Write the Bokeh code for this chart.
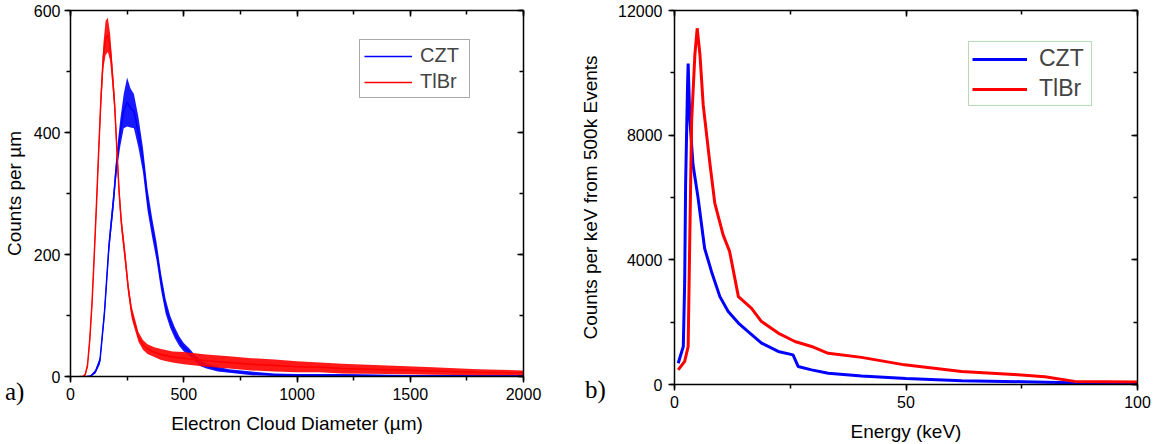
from bokeh.plotting import figure
from bokeh.models import (Range1d, LinearAxis, SingleIntervalTicker, Legend,
                          LegendItem, Div, CustomJSTickFormatter)
from bokeh.layouts import row, column
from bokeh.embed import file_html
from bokeh.resources import INLINE

# ---------------- data: panel a) electron cloud diameter ----------------
czt_d = [70, 90, 110, 130, 150, 170, 190, 200, 210, 220, 235, 250, 265, 280, 300,
         320, 340, 360, 380, 400, 420, 440, 460, 480, 500, 525, 550, 575, 600,
         650, 700, 800, 900, 1000, 1200, 1500, 2000]
czt_counts = [0, 1, 8, 26, 105, 215, 290, 335, 370, 400, 435, 450, 440, 435, 400,
              355, 290, 245, 205, 155, 115, 90, 72, 58, 48, 40, 30, 22, 17,
              12, 9, 5, 3, 2, 2, 1, 1]
czt_noise = [0, 1, 3, 6, 10, 12, 15, 16, 18, 22, 28, 40, 32, 28, 25,
             20, 18, 16, 15, 14, 12, 10, 9, 8, 7, 6, 5, 5, 4,
             4, 3, 3, 2, 2, 2, 1.5, 1.5]

tlbr_d = [40, 55, 65, 75, 85, 95, 105, 115, 125, 135, 145, 155, 165, 175, 185,
          195, 205, 215, 225, 240, 255, 270, 285, 300, 320, 340, 370, 400, 450,
          500, 600, 700, 800, 900, 1000, 1100, 1200, 1400, 1600, 1800, 2000]
tlbr_counts = [0, 0, 3, 18, 60, 120, 200, 285, 375, 460, 525, 555, 560, 540, 495,
               445, 370, 300, 250, 200, 145, 105, 85, 65, 52, 45, 40, 36, 32,
               30, 26, 23, 20, 18, 16, 15, 13, 11, 9, 7, 6]
tlbr_noise = [0, 0.5, 1.5, 4, 8, 10, 12, 14, 15, 18, 20, 28, 28, 22, 18,
              16, 15, 14, 12, 12, 10, 10, 9, 8, 8, 8, 8, 9, 9,
              10, 10, 10, 10, 10, 9, 8, 8, 7, 6, 5, 4]

# ---------------- data: panel b) energy spectra ----------------
czt_e = [0.8, 1.9, 2.2, 2.4, 2.8, 2.95, 3.3, 4.0, 5.1, 6.5, 8.0, 9.8, 11.6, 13.8,
         15.9, 18.8, 22.4, 25.6, 26.7, 29.6, 33.2, 40.4, 50, 62, 75, 85.7, 100]
czt_spec = [680, 1220, 3300, 6400, 9500, 10300, 8550, 7050, 5980, 4370, 3620, 2820,
            2340, 1970, 1700, 1330, 1060, 950, 580, 470, 360, 270, 190, 120, 90, 60, 30]

tlbr_e = [0.8, 2.2, 2.95, 3.3, 3.7, 4.4, 4.9, 5.5, 6.2, 7.6, 8.7, 10.5, 11.9, 13.8,
          16.6, 18.8, 22.4, 26.0, 29.6, 33.2, 40.4, 49.7, 62, 74.2, 80, 86.4, 100]
tlbr_spec = [470, 740, 1220, 4690, 8440, 10580, 11430, 10580, 8970, 7150, 5820, 4800,
             4270, 2820, 2450, 2020, 1650, 1380, 1220, 1000, 870, 630, 420, 310, 250,
             100, 80]

panel_tags = ["a)", "b)"]

BLUE = "#0000ff"
RED = "#ff0000"
FONT = "Liberation Sans"


def style_axis(ax, outward=True, labels=True):
    ax.axis_line_width = 1.5
    ax.axis_line_color = "black"
    ax.major_tick_line_width = 1.5
    ax.minor_tick_line_width = 1.5
    ax.major_tick_line_color = "black"
    ax.minor_tick_line_color = "black"
    if outward:
        ax.major_tick_out, ax.major_tick_in = 6, 0
        ax.minor_tick_out, ax.minor_tick_in = 4, 0
    else:
        ax.major_tick_out, ax.major_tick_in = 0, 6
        ax.minor_tick_out, ax.minor_tick_in = 0, 4
    ax.major_label_text_font = FONT
    ax.major_label_text_font_size = "16px"
    ax.major_label_text_color = "black"
    ax.axis_label_text_font = FONT
    ax.axis_label_text_font_size = "19px"
    ax.axis_label_text_font_style = "normal"
    ax.axis_label_text_color = "black"
    if not labels:
        ax.formatter = CustomJSTickFormatter(code="return ''")
        ax.major_label_standoff = 0
        ax.major_label_text_font_size = "1px"


def make_fig(fw, fh, bl, bt, br, bb, xr, yr, xint, yint):
    p = figure(frame_width=fw, frame_height=fh, min_border_left=bl, min_border_top=bt,
               min_border_right=br, min_border_bottom=bb,
               x_range=Range1d(*xr), y_range=Range1d(*yr),
               output_backend="svg", toolbar_location=None)
    p.grid.visible = False
    p.outline_line_color = None
    p.background_fill_color = "white"
    p.border_fill_color = "white"
    bottom = p.below[0]
    left = p.left[0]
    bottom.ticker = SingleIntervalTicker(interval=xint, num_minor_ticks=2)
    left.ticker = SingleIntervalTicker(interval=yint, num_minor_ticks=2)
    style_axis(bottom)
    style_axis(left)
    top = LinearAxis(ticker=SingleIntervalTicker(interval=xint, num_minor_ticks=2))
    right = LinearAxis(ticker=SingleIntervalTicker(interval=yint, num_minor_ticks=2))
    style_axis(top, outward=False, labels=False)
    style_axis(right, outward=False, labels=False)
    p.add_layout(top, "above")
    p.add_layout(right, "right")
    return p, bottom, left


# ---------------- panel a ----------------
p1, xa1, ya1 = make_fig(453, 366, 69, 10, 48, 60, (0, 2000), (0, 600), 500, 200)
xa1.axis_label = "Electron Cloud Diameter (µm)"
ya1.axis_label = "Counts per µm"
xa1.major_label_standoff = 5
ya1.major_label_standoff = 4
xa1.axis_label_standoff = 10
ya1.axis_label_standoff = 6

czt_lo = [max(c - n, 0) for c, n in zip(czt_counts, czt_noise)]
czt_hi = [c + n for c, n in zip(czt_counts, czt_noise)]
tl_lo = [max(c - n, 0) for c, n in zip(tlbr_counts, tlbr_noise)]
tl_hi = [c + n for c, n in zip(tlbr_counts, tlbr_noise)]

p1.varea(x=czt_d, y1=czt_lo, y2=czt_hi, fill_color=BLUE, fill_alpha=0.9)
l_czt = p1.line(czt_d, czt_counts, line_color=BLUE, line_width=1.5)
p1.varea(x=tlbr_d, y1=tl_lo, y2=tl_hi, fill_color=RED, fill_alpha=0.9)
l_tl = p1.line(tlbr_d, tlbr_counts, line_color=RED, line_width=1.5)

leg1 = Legend(items=[LegendItem(label="CZT", renderers=[l_czt]),
                     LegendItem(label="TlBr", renderers=[l_tl])],
              location=(289, 278))
leg1.label_text_font = FONT
leg1.label_text_font_size = "20px"
leg1.glyph_width = 48
leg1.glyph_height = 22
leg1.label_height = 22
leg1.label_width = 45
leg1.label_standoff = 8
leg1.padding = 4
leg1.spacing = 3
leg1.margin = 0
leg1.border_line_color = "#555555"
leg1.border_line_width = 1
leg1.background_fill_alpha = 1
p1.add_layout(leg1)

# ---------------- panel b ----------------
p2, xa2, ya2 = make_fig(463, 374, 103, 9, 17, 53, (0, 100), (0, 12000), 50, 4000)
xa2.axis_label = "Energy (keV)"
ya2.axis_label = "Counts per keV from 500k Events"
xa2.major_label_standoff = 5
ya2.major_label_standoff = 6
xa2.axis_label_standoff = 10
ya2.axis_label_standoff = 14

b_czt = p2.line(czt_e, czt_spec, line_color=BLUE, line_width=3)
b_tl = p2.line(tlbr_e, tlbr_spec, line_color=RED, line_width=3)

leg2 = Legend(items=[LegendItem(label="CZT", renderers=[b_czt]),
                     LegendItem(label="TlBr", renderers=[b_tl])],
              location=(294, 278))
leg2.label_text_font = FONT
leg2.label_text_font_size = "23px"
leg2.glyph_width = 55
leg2.glyph_height = 26
leg2.label_height = 26
leg2.label_width = 49
leg2.label_standoff = 12
leg2.padding = 3
leg2.spacing = 3
leg2.margin = 0
leg2.border_line_color = "#6fb86f"
leg2.border_line_width = 1
p2.add_layout(leg2)

# ---------------- panel tags (a), b)) overlaid on the figure borders ----------------
tag_style = {"font-family": "Liberation Serif", "font-size": "25px", "color": "black",
             "position": "relative", "z-index": "10", "white-space": "nowrap",
             "line-height": "28px"}
tag_a = Div(text=panel_tags[0], width=30, height=28, margin=(-65, 0, 0, 5),
            styles=tag_style)
tag_b = Div(text=panel_tags[1], width=30, height=28, margin=(-67, 0, 0, 550),
            styles=tag_style)

layout = column(row(p1, p2), row(tag_a, tag_b))
open("out.html", "w").write(file_html(layout, INLINE))
